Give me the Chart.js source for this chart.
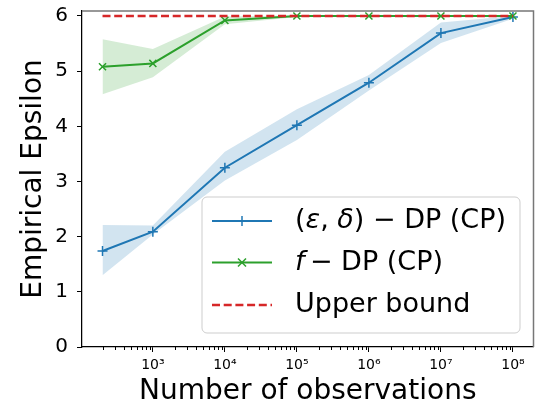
<!DOCTYPE html>
<html>
<head>
<meta charset="utf-8">
<script src="https://cdn.jsdelivr.net/npm/chart.js@4.4.1/dist/chart.umd.min.js"></script>
<style>
html, body { margin: 0; padding: 0; background: #fff; }
#wrap { width: 540px; height: 411px; }
</style>
</head>
<body>
<div id="wrap"><canvas id="chart" width="540" height="411"></canvas></div>
<script>
// number of observations (x, log scale)
const observations = [200, 1e3, 1e4, 1e5, 1e6, 1e7, 1e8];

// (eps, delta)-DP (CP): mean and shaded band
const edpMean  = [1.74, 2.09, 3.25, 4.02, 4.79, 5.69, 5.98];
const edpUpper = [2.21, 2.20, 3.54, 4.31, 4.93, 5.88, 6.00];
const edpLower = [1.30, 2.04, 3.02, 3.75, 4.65, 5.51, 5.95];

// f-DP (CP): mean and shaded band
const fdpMean  = [5.08, 5.14, 5.92, 6.00, 6.00, 6.00, 6.00];
const fdpUpper = [5.58, 5.40, 5.99, 6.01, 6.01, 6.01, 6.01];
const fdpLower = [4.58, 4.89, 5.85, 5.98, 5.98, 5.98, 5.98];

const upperBound = [6, 6, 6, 6, 6, 6, 6];

const xTicks = [1e3, 1e4, 1e5, 1e6, 1e7, 1e8];
const xTickLabels = ["10³", "10⁴", "10⁵", "10⁶", "10⁷", "10⁸"];
const yTicks = [0, 1, 2, 3, 4, 5, 6];

// parts between underscores are drawn in italics
const legendLabels = ["(_ε_, _δ_) − DP (CP)", "_f_\u2009− DP (CP)", "Upper bound"];

const BLUE = "#1f77b4";
const GREEN = "#2ca02c";
const RED = "#d62728";
const FONT = "'DejaVu Sans', sans-serif";

function pts(ys){
    return observations.map((x, i) => ({x: x, y: ys[i]}));
}

function band(ys, color, fill){
    return {
        data: pts(ys),
        borderWidth: 0,
        pointRadius: 0,
        backgroundColor: color,
        fill: fill,
        order: 10
    };
}

// log minor ticks + top/right spines
const framePlugin = {
    id: "frame",
    afterDraw(chart){
        const ctx = chart.ctx;
        const a = chart.chartArea;
        const xs = chart.scales.x;
        ctx.save();
        ctx.strokeStyle = "#000";
        ctx.lineWidth = 1;
        for(let k = 2; k <= 8; k++){
            for(let m = 2; m <= 9; m++){
                const v = m * Math.pow(10, k);
                if(v < xs.min || v > xs.max) continue;
                const px = Math.round(xs.getPixelForValue(v)) + 0.5;
                ctx.beginPath();
                ctx.moveTo(px, a.bottom);
                ctx.lineTo(px, a.bottom + 3);
                ctx.stroke();
            }
        }
        ctx.strokeStyle = "#777";
        ctx.lineWidth = 1.5;
        ctx.beginPath();
        ctx.moveTo(a.left, a.top);
        ctx.lineTo(a.right, a.top);
        ctx.lineTo(a.right, a.bottom);
        ctx.stroke();
        ctx.restore();
    }
};

const legendPlugin = {
    id: "boxLegend",
    afterDraw(chart){
        const ctx = chart.ctx;
        const bx = 202, by = 197, bw = 318, bh = 136, r = 5;
        ctx.save();
        ctx.beginPath();
        ctx.moveTo(bx + r, by);
        ctx.arcTo(bx + bw, by, bx + bw, by + bh, r);
        ctx.arcTo(bx + bw, by + bh, bx, by + bh, r);
        ctx.arcTo(bx, by + bh, bx, by, r);
        ctx.arcTo(bx, by, bx + bw, by, r);
        ctx.closePath();
        ctx.fillStyle = "rgba(255,255,255,0.8)";
        ctx.fill();
        ctx.strokeStyle = "rgba(200,200,200,0.9)";
        ctx.lineWidth = 1;
        ctx.stroke();

        const rows = [221, 262.5, 305];
        const colors = [BLUE, GREEN, RED];
        rows.forEach((y, i) => {
            ctx.strokeStyle = colors[i];
            ctx.lineWidth = i === 2 ? 2.5 : 2;
            ctx.setLineDash(i === 2 ? [8, 3.7] : []);
            ctx.beginPath();
            ctx.moveTo(212, y);
            ctx.lineTo(272, y);
            ctx.stroke();
            ctx.setLineDash([]);
            ctx.lineWidth = 1.5;
            ctx.beginPath();
            if(i === 0){
                ctx.moveTo(242, y - 5);
                ctx.lineTo(242, y + 5);
            }else if(i === 1){
                ctx.moveTo(238, y - 4);
                ctx.lineTo(246, y + 4);
                ctx.moveTo(238, y + 4);
                ctx.lineTo(246, y - 4);
            }
            ctx.stroke();

            ctx.fillStyle = "#000";
            ctx.textBaseline = "middle";
            ctx.textAlign = "left";
            let tx = 295;
            legendLabels[i].split("_").forEach((part, j) => {
                ctx.font = (j % 2 ? "italic " : "") + "27px " + FONT;
                ctx.fillText(part, tx, y);
                tx += ctx.measureText(part).width;
            });
        });
        ctx.restore();
    }
};

new Chart(document.getElementById("chart"), {
    type: "line",
    data: {
        datasets: [
            band(edpUpper, "rgba(31,119,180,0.2)", false),
            band(edpLower, "rgba(31,119,180,0.2)", "-1"),
            band(fdpUpper, "rgba(44,160,44,0.2)", false),
            band(fdpLower, "rgba(44,160,44,0.2)", "-1"),
            {
                label: "(ε, δ) − DP (CP)",
                data: pts(edpMean),
                borderColor: BLUE,
                borderWidth: 2,
                pointStyle: "cross",
                pointRadius: 5,
                pointBorderColor: BLUE,
                pointBorderWidth: 1.5,
                fill: false,
                order: 3
            },
            {
                label: "f − DP (CP)",
                data: pts(fdpMean),
                borderColor: GREEN,
                borderWidth: 2,
                pointStyle: "crossRot",
                pointRadius: 5,
                pointBorderColor: GREEN,
                pointBorderWidth: 1.5,
                fill: false,
                order: 2
            },
            {
                label: "Upper bound",
                data: pts(upperBound),
                borderColor: RED,
                borderWidth: 2.5,
                borderDash: [8, 3.7],
                pointRadius: 0,
                fill: false,
                order: 1
            }
        ]
    },
    options: {
        responsive: false,
        animation: false,
        devicePixelRatio: 1,
        layout: { padding: { left: 0, right: 4, top: 11, bottom: 0 } },
        plugins: {
            legend: { display: false },
            tooltip: { enabled: false }
        },
        scales: {
            x: {
                type: "logarithmic",
                min: 103.8,
                max: 1.93e8,
                afterBuildTicks(scale){
                    scale.ticks = xTicks.map(v => ({value: v}));
                },
                afterFit(scale){
                    scale.height = 64;
                    scale.paddingLeft = 0;
                    scale.paddingRight = 0;
                },
                ticks: {
                    autoSkip: false,
                    maxRotation: 0,
                    padding: 5,
                    color: "#000",
                    font: { family: FONT, size: 14 },
                    callback: (v, i) => xTickLabels[i]
                },
                grid: {
                    display: true,
                    drawOnChartArea: false,
                    drawTicks: true,
                    tickLength: 5,
                    tickColor: "#000",
                    tickWidth: 1
                },
                border: { display: true, color: "#000", width: 1.25 },
                title: {
                    display: true,
                    text: "Number of observations",
                    color: "#000",
                    font: { family: FONT, size: 28 },
                    padding: { top: 0, bottom: 2 }
                }
            },
            y: {
                min: 0,
                max: 6.09,
                afterBuildTicks(scale){
                    scale.ticks = yTicks.map(v => ({value: v}));
                },
                afterFit(scale){
                    scale.width = 82;
                    scale.paddingTop = 0;
                    scale.paddingBottom = 0;
                },
                ticks: {
                    padding: 9,
                    color: "#000",
                    font: { family: FONT, size: 20 },
                    callback: v => String(v)
                },
                grid: {
                    display: true,
                    drawOnChartArea: false,
                    drawTicks: true,
                    tickLength: 5,
                    tickColor: "#000",
                    tickWidth: 1
                },
                border: { display: true, color: "#000", width: 1.25 },
                title: {
                    display: true,
                    text: "Empirical Epsilon",
                    color: "#000",
                    font: { family: FONT, size: 28 },
                    padding: { top: 17, bottom: 0 }
                }
            }
        }
    },
    plugins: [framePlugin, legendPlugin]
});
</script>
</body>
</html>
